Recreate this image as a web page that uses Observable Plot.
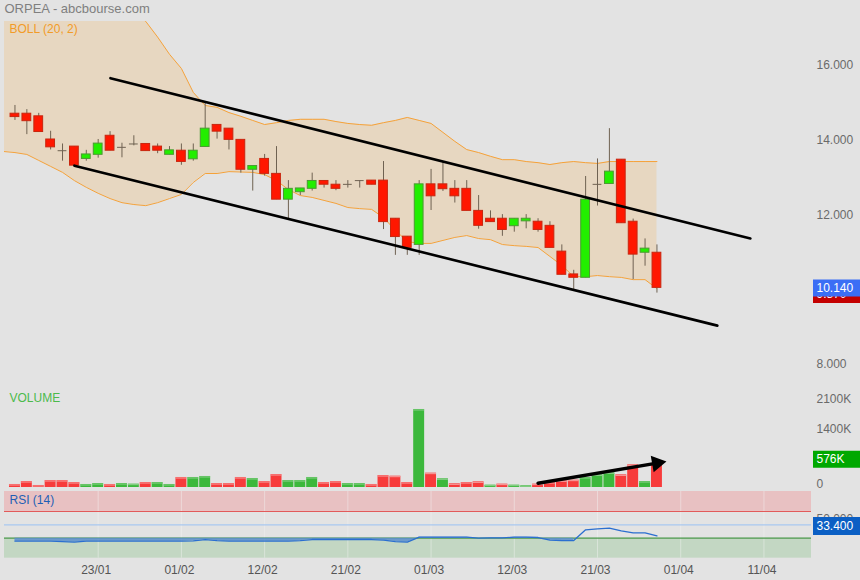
<!DOCTYPE html>
<html><head><meta charset="utf-8">
<script src="https://cdn.jsdelivr.net/npm/d3@7"></script>
<script src="https://cdn.jsdelivr.net/npm/@observablehq/plot@0.6"></script>
<style>
body{margin:0;background:#e3e3e3;}
#chart{width:860px;height:580px;background:#e3e3e3;}
#chart svg{display:block;}
</style></head><body><div id="chart"></div>
<script>
// ---- data ----
const dateLabels = ["23/01","01/02","12/02","21/02","01/03","12/03","21/03","01/04","11/04"];
const dateTickIdx = [7,14,21,28,35,42,49,56,63];
const priceTicks = [8,12,14,16];          // 10.000 is hidden behind the last-price badge
const volumeTicks = [1400,2100];          // 700K is hidden behind the volume badge
const volumeZeroTick = [0];
const rsiTicks = [50];

const opens  = [14.71,14.71,14.64,14.02,13.73,13.83,13.50,13.61,14.12,13.81,13.90,13.90,13.83,13.61,13.72,13.49,13.82,14.41,14.31,14.01,13.21,13.50,13.10,12.41,12.61,12.70,12.91,12.81,12.82,12.92,12.92,12.92,11.90,11.42,11.20,12.82,12.82,12.70,12.70,12.11,11.90,11.90,11.70,11.83,11.82,11.71,11.02,10.41,10.32,12.82,12.83,13.48,11.82,10.99,10.99];
const highs  = [14.93,14.82,14.72,14.24,13.90,13.83,13.73,14.02,14.23,13.92,14.12,13.90,13.90,13.83,13.90,13.90,15.02,14.41,14.31,14.01,13.31,13.62,13.83,12.92,12.71,13.12,12.91,12.92,12.92,12.92,12.92,13.43,11.90,11.42,12.92,13.22,13.43,12.92,12.92,12.52,12.11,12.01,11.90,12.01,11.90,11.82,11.20,10.52,13.03,13.50,14.31,13.48,11.89,11.36,11.20];
const lows   = [14.53,14.15,14.22,13.74,13.44,13.32,13.44,13.52,13.72,13.53,13.85,13.71,13.64,13.61,13.33,13.44,13.82,14.03,13.74,13.12,12.64,13.04,12.41,11.90,12.52,12.64,12.72,12.65,12.72,12.72,12.81,11.61,10.92,10.92,10.92,12.12,12.63,12.32,12.11,11.62,11.81,11.43,11.54,11.63,11.54,11.12,10.40,9.98,10.32,12.24,12.83,11.78,10.27,10.63,9.91];
const closes = [14.62,14.51,14.22,13.81,13.72,13.32,13.62,13.91,13.72,13.81,13.90,13.71,13.72,13.73,13.42,13.72,14.31,14.23,14.01,13.21,13.31,13.10,12.41,12.70,12.71,12.91,12.81,12.70,12.82,12.92,12.81,11.81,11.41,11.12,12.82,12.50,12.69,12.50,12.11,11.71,11.81,11.60,11.90,11.90,11.60,11.12,10.40,10.32,12.41,12.82,13.16,11.78,10.94,11.10,10.05];
const volumesK = [72,143,48,167,167,119,72,95,72,95,80,119,119,72,239,239,263,95,95,239,215,143,310,167,167,239,119,143,95,95,72,286,270,119,1862,342,207,88,119,135,56,80,56,40,80,119,159,175,239,302,350,302,541,143,576];
const rsi14 = [25.5,25.5,25.5,25.5,25,24,25.5,25.5,25.5,25.5,25.5,25.5,25.5,25.5,25.5,26,28,26.5,25.5,25.5,25.5,25.5,25.5,25.5,26.5,28,28,28,28,28,28,27,25,24,31.5,31.5,31.5,31.5,31.5,30,30.5,30.5,31.5,31.5,31,27,26.5,26.5,42.5,44,45,41,38,38,33.4];
// Bollinger (20,2) bands, starting one session before the first visible candle
const bollUpper = [17.9,17.9,17.9,17.85,17.8,17.8,17.75,17.7,17.65,17.6,17.5,17.4,17.18,16.76,16.3,15.92,15.28,14.93,14.88,14.74,14.64,14.53,14.42,14.47,14.53,14.56,14.56,14.56,14.50,14.45,14.42,14.40,14.47,14.53,14.61,14.53,14.45,14.21,13.97,13.75,13.67,13.57,13.48,13.48,13.43,13.40,13.35,13.40,13.43,13.40,13.38,13.43,13.43,13.43,13.43,13.43];
const bollLower = [13.70,13.67,13.62,13.46,13.30,13.14,12.92,12.74,12.58,12.44,12.33,12.28,12.25,12.33,12.44,12.55,12.87,13.11,13.11,13.16,13.15,13.14,13.08,12.92,12.68,12.52,12.47,12.39,12.31,12.20,12.17,12.15,11.93,11.59,11.29,11.24,11.24,11.32,11.40,11.45,11.37,11.34,11.21,11.18,11.16,11.13,10.89,10.65,10.35,10.35,10.38,10.35,10.33,10.27,10.27,10.03];
// hand-drawn annotations (session index, value)
const trendUpper = [{i:8.03,p:15.66},{i:61.86,p:11.37}];
const trendLower = [{i:5.0,p:13.32},{i:59.08,p:9.04}];
const volumeArrow = [{i:44.0,v:103},{i:54.0,v:582}];
const priceBadges = [{text:"9.870", value:9.87, color:"#c40000"},{text:"10.140", value:closes[closes.length-1], color:"#3b6ef5"}];
const volumeBadges = [{text:"576K", value:volumesK[volumesK.length-1], color:"#00a800"}];
const rsiBadges = [{text:"33.400", value:rsi14[rsi14.length-1], color:"#0b5fc4"}];
const rsiZones = [{lo:70,hi:100,color:"#e8c1c2"},{lo:0,hi:30,color:"#c3d7c3"}];
const rsiLevels = [{v:70,color:"#e25a5a"},{v:50,color:"#a9c8f0"},{v:30,color:"#4e9a4e"}];

// ---- derived tables ----
const candles = opens.map((o,i)=>({i, open:o, high:highs[i], low:lows[i], close:closes[i],
  kind: Math.abs(closes[i]-o) < 0.015 ? "doji" : (closes[i] > o ? "up" : "down")}));
const vols = volumesK.map((v,i)=>({i, v, up: i===0 ? closes[0] >= opens[0] : closes[i] >= closes[i-1]}));
const band = bollUpper.map((u,k)=>({i:k-1, upper:u, lower:bollLower[k]}));
const rsiData = rsi14.map((r,i)=>({i, r}));

const F = '"Liberation Sans", Arial, Helvetica, sans-serif';
const W = 860, ML = 4, MR = 49;
const xDomain = [-0.88, 67.0];
const wick = "#6f6252";
const baseStyle = {background:"transparent", fontFamily:F, fontSize:"12px", overflow:"visible"};
const bw = 0.37;

// a coloured badge in the right margin: box first, then its text, one badge at a time
function badges(list, dy, h){
  return list.flatMap(b => [
    Plot.ruleY([b],{y:"value", dy, stroke:"color", strokeWidth:h, insetLeft:809, insetRight:-49}),
    Plot.text([b],{y:"value", dy, text:"text", frameAnchor:"right", dx:5, textAnchor:"start", fill:"white", fontSize:12})
  ]);
}

const priceChart = Plot.plot({
  width:W, height:388, marginLeft:ML, marginRight:MR, marginTop:21, marginBottom:3,
  style: baseStyle,
  x:{domain:xDomain, axis:null},
  y:{domain:[7.438,17.177], axis:null},
  color:{type:"identity"},
  marks:[
    Plot.areaY(band,{x:"i", y1:"lower", y2:"upper", fill:"#e7d7c1", clip:true}),
    Plot.lineY(band,{x:"i", y:"upper", stroke:"#f5a23a", strokeWidth:1, clip:true}),
    Plot.lineY(band,{x:"i", y:"lower", stroke:"#f5a23a", strokeWidth:1, clip:true}),
    Plot.ruleX(candles,{x:"i", y1:"low", y2:"high", stroke:wick, strokeWidth:1}),
    Plot.rect(candles.filter(d=>d.kind!=="doji"),{x1:d=>d.i-bw, x2:d=>d.i+bw, y1:"open", y2:"close",
      fill:d=>d.kind==="up"?"#22ee00":"#ff1700", stroke:d=>d.kind==="up"?"#4b9a32":"#c8260f", strokeWidth:1}),
    Plot.ruleY(candles.filter(d=>d.kind==="doji"),{x1:d=>d.i-bw, x2:d=>d.i+bw, y:"close", stroke:wick, strokeWidth:1}),
    Plot.line(trendUpper,{x:"i", y:"p", stroke:"#000", strokeWidth:2.6}),
    Plot.line(trendLower,{x:"i", y:"p", stroke:"#000", strokeWidth:2.6}),
    Plot.axisY(priceTicks,{anchor:"right", tickSize:0, tickPadding:5, tickFormat:d3.format(".3f"), fill:"#6a6a6a", fontSize:12, label:null}),
    ...badges(priceBadges, 0, 17),
    Plot.text(["ORPEA - abcbourse.com"],{text:d=>d, frameAnchor:"top-left", dy:-13, textAnchor:"start", lineAnchor:"middle", fill:"#7f7f7f", fontSize:13}),
    Plot.text(["BOLL (20, 2)"],{text:d=>d, frameAnchor:"top-left", dx:5, dy:8, textAnchor:"start", lineAnchor:"middle", fill:"#f29b27", fontSize:12})
  ]
});

const volumeChart = Plot.plot({
  width:W, height:100, marginLeft:ML, marginRight:MR, marginTop:0, marginBottom:1,
  style: baseStyle,
  x:{domain:xDomain, axis:null},
  y:{domain:[0,2363], axis:null},
  color:{type:"identity"},
  marks:[
    Plot.rectY(vols,{x1:d=>d.i-0.46, x2:d=>d.i+0.46, y:"v", fill:d=>d.up?"#3cb83c":"#f73b3b"}),
    Plot.ruleY(vols,{x1:d=>d.i-0.46, x2:d=>d.i+0.46, y:"v", dy:0.5, stroke:d=>d.up?"#8fd08f":"#f6a3a3"}),
    Plot.line(volumeArrow,{x:"i", y:"v", stroke:"#000", strokeWidth:3.5}),
    Plot.dot(volumeArrow.slice(-1),{x:"i", y:"v", symbol:"triangle", r:6.2, fill:"#000", stroke:"none", rotate:80}),
    Plot.axisY(volumeTicks,{anchor:"right", tickSize:0, tickPadding:5, tickFormat:d=>d+"K", fill:"#6a6a6a", fontSize:12, label:null}),
    Plot.axisY(volumeZeroTick,{anchor:"right", tickSize:0, tickPadding:5, dy:-3, tickFormat:d=>String(d), fill:"#6a6a6a", fontSize:12, label:null}),
    ...badges(volumeBadges, -4, 17),
    Plot.text(["VOLUME"],{text:d=>d, frameAnchor:"top-left", dx:5, dy:10, textAnchor:"start", lineAnchor:"middle", fill:"#4cba4c", fontSize:12})
  ]
});

const rsiChart = Plot.plot({
  width:W, height:92, marginLeft:ML, marginRight:MR, marginTop:3, marginBottom:22.3,
  style: baseStyle,
  x:{domain:xDomain, axis:null},
  y:{domain:[0,100], axis:null},
  color:{type:"identity"},
  marks:[
    Plot.rect(rsiZones,{y1:"lo", y2:"hi", fill:"color"}),
    Plot.ruleX(dateTickIdx,{x:d=>d, stroke:"#f4f4f4", strokeOpacity:0.45}),
    Plot.ruleY(rsiLevels,{y:"v", stroke:"color", strokeWidth:1.2}),
    Plot.areaY(rsiData.filter(d=>d.i<=47),{x:"i", y1:30, y2:"r", fill:"#5d8fcf", fillOpacity:0.85}),
    Plot.lineY(rsiData,{x:"i", y:"r", stroke:"#2b6fd0", strokeWidth:1.3}),
    Plot.text(rsiTicks,{y:d=>d, text:d=>d3.format(".3f")(d), frameAnchor:"right", dx:5, dy:-6, textAnchor:"start", fill:"#6a6a6a", fontSize:12}),
    ...badges(rsiBadges, -10, 18),
    Plot.axisX(dateTickIdx,{anchor:"bottom", tickSize:0, tickPadding:7, dx:-2, tickFormat:d=>dateLabels[dateTickIdx.indexOf(d)], fill:"#555", fontSize:12, label:null}),
    Plot.text(["RSI (14)"],{text:d=>d, frameAnchor:"top-left", dx:5, dy:9, textAnchor:"start", lineAnchor:"middle", fill:"#1f5fb5", fontSize:12})
  ]
});

const root = document.getElementById("chart");
root.append(priceChart, volumeChart, rsiChart);
</script></body></html>
